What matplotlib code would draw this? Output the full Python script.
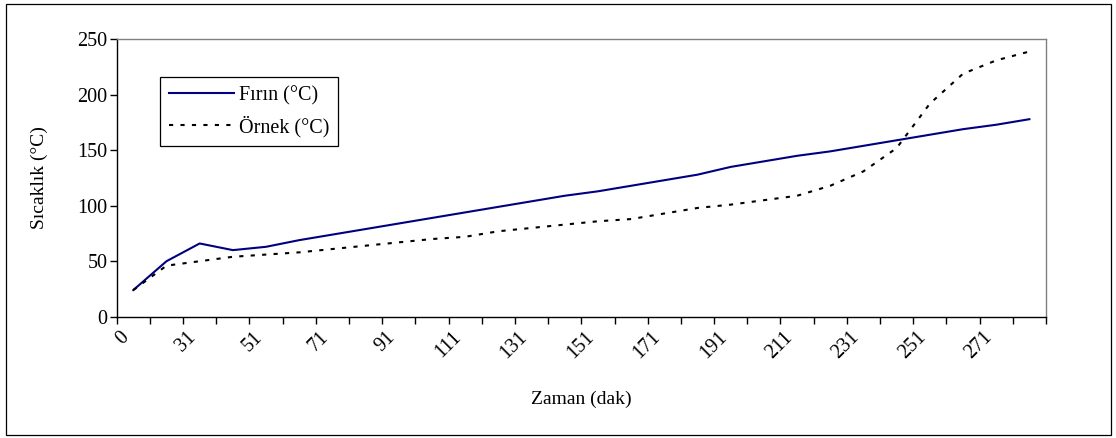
import numpy as np
import matplotlib
matplotlib.use("Agg")
import matplotlib.pyplot as plt
from matplotlib.patches import Rectangle
from matplotlib.ticker import FixedLocator, NullFormatter

# Measurement times (minutes), one category per reading
minutes = [0, 21, 31, 41, 51, 61, 71, 81, 91, 101, 111, 121, 131, 141,
           151, 161, 171, 181, 191, 201, 211, 221, 231, 241, 251, 261, 271, 281]

# Oven temperature (°C)
firin = [24, 50, 66, 60, 63, 69, 74, 79, 84, 89, 94, 99, 104, 109,
         113, 118, 123, 128, 135, 140, 145, 149, 154, 159, 164, 169, 173, 178]

# Sample temperature (°C)
ornek = [24, 46, 50, 54, 56, 58, 61, 64, 67, 70, 72, 77, 80, 83,
         86, 88, 93, 98, 101, 105, 109, 118, 131, 152, 192, 219, 231, 239]

y_ticks = [0, 50, 100, 150, 200, 250]

plt.rcParams["font.family"] = ["Liberation Serif", "DejaVu Serif"]
TICK_FS = 14.5
LEG_FS = 14.5
LABEL_FS = 14

W, H = 1116, 438
fig = plt.figure(figsize=(W / 100, H / 100), dpi=100)
fig.patch.set_facecolor("white")

# chart-area frame
fig.patches.append(Rectangle((5.5 / W, 3.5 / H), (1110.5 - 5.5) / W, (434.5 - 3.5) / H,
                             transform=fig.transFigure, fill=False,
                             edgecolor="black", linewidth=0.9))

left, right, top, bottom = 116.7, 1046.0, 39.3, 316.7
ax = fig.add_axes([left / W, 1 - bottom / H, (right - left) / W, (bottom - top) / H])

x = np.arange(len(minutes))
ax.plot(x, firin, color="#000080", linewidth=1.5, label="Fırın (°C)",
        solid_joinstyle="round", zorder=3)
ax.plot(x, ornek, color="black", linewidth=1.5, linestyle=(0, (2.0, 3.5)),
        label="Örnek (°C)", zorder=4)

ax.set_xlim(-0.5, len(minutes) - 0.5)
ax.set_ylim(0, 250)
ax.set_yticks(y_ticks)
ax.set_yticklabels([str(v) for v in y_ticks], fontsize=TICK_FS)

# category boundaries carry the tick marks, every second category carries a label
ax.xaxis.set_major_locator(FixedLocator(np.arange(-0.5, len(minutes) + 0.5, 1.0)))
ax.xaxis.set_major_formatter(NullFormatter())
ax.xaxis.set_minor_locator(FixedLocator(x[::2]))
ax.set_xticklabels([str(m) for m in minutes[::2]], minor=True,
                   rotation=45, ha="right", va="top", fontsize=TICK_FS)
ax.tick_params(axis="x", which="major", direction="out", length=5, width=1.0, color="black")
ax.tick_params(axis="x", which="minor", length=0, pad=8)
ax.tick_params(axis="y", direction="out", length=5, width=1.0, pad=1.5, color="black")

for side in ("left", "bottom"):
    ax.spines[side].set_color("black")
    ax.spines[side].set_linewidth(1.0)
for side in ("top", "right"):
    ax.spines[side].set_color("#808080")
    ax.spines[side].set_linewidth(1.0)

ax.set_ylabel("Sıcaklık (°C)", fontsize=LABEL_FS, labelpad=21.5)
ax.set_xlabel("Zaman (dak)", fontsize=LABEL_FS, labelpad=20)

leg = ax.legend(loc="upper left", bbox_to_anchor=(160 / W, 1 - 77 / H),
                bbox_transform=fig.transFigure, fontsize=LEG_FS, frameon=True,
                fancybox=False, shadow=False, framealpha=1, edgecolor="black",
                handlelength=3.2, handletextpad=0.25, borderpad=0.45,
                labelspacing=0.5, borderaxespad=0)
leg.get_frame().set_linewidth(0.9)

fig.savefig("out.png", dpi=100, facecolor="white")
